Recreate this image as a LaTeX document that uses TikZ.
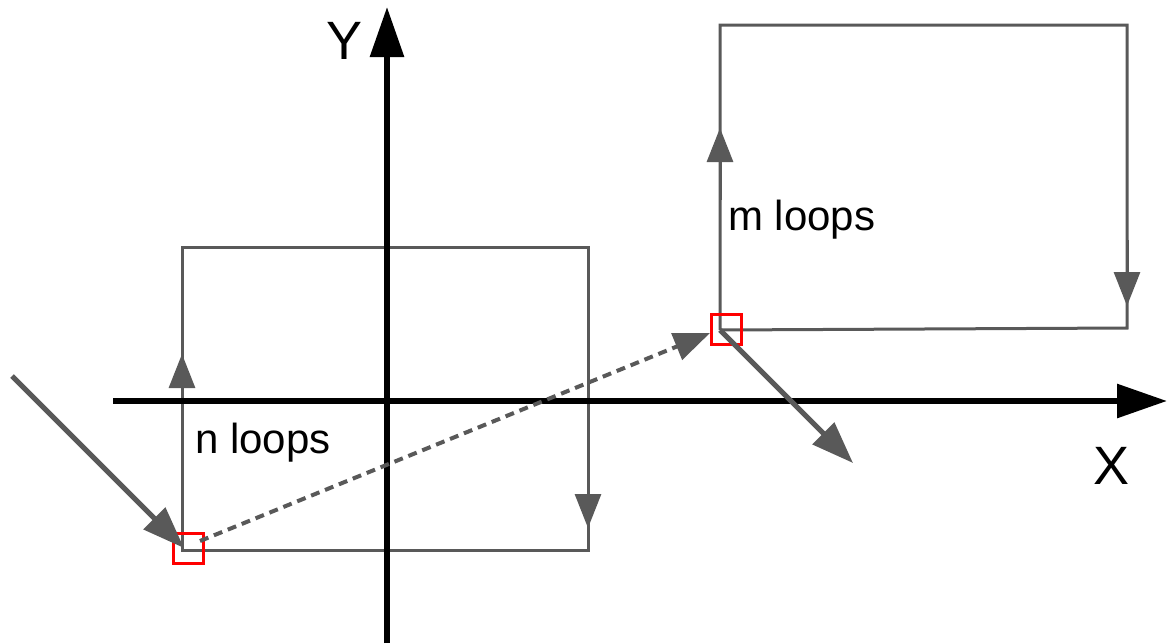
\documentclass[tikz,border=0pt]{standalone}
\usepackage{fontspec}
\setmainfont{Liberation Sans}
\usetikzlibrary{arrows.meta}
\definecolor{lg}{HTML}{595959}
\begin{document}
\begin{tikzpicture}[x=1pt,y=-1pt,
  axis/.style={line width=6pt,black,-{Triangle[length=50pt,width=33pt]}},
  side/.style={line width=3pt,lg},
  sidearrow/.style={line width=3pt,lg,-{Triangle[length=34pt,width=26pt]}},
  bigarrow/.style={line width=5pt,lg,-{Triangle[length=42pt,width=30pt]}},
  dasharrow/.style={line width=4pt,lg,dash pattern=on 9pt off 6pt,-{Triangle[length=36pt,width=28pt]}},
  marker/.style={draw=red,line width=3pt,minimum size=30pt,inner sep=0pt},
  lbl/.style={font=\fontsize{42}{48}\selectfont,inner sep=0pt,anchor=base west},
  axl/.style={font=\fontsize{54}{60}\selectfont,inner sep=0pt,anchor=base}]
\useasboundingbox (0,0) rectangle (1173,643);
% rectangles
\coordinate (LA) at (182,550);
\coordinate (LB) at (182,247);
\coordinate (LC) at (588,247);
\coordinate (LD) at (588,550);
\coordinate (RA) at (720,330);
\coordinate (RB) at (720,25);
\coordinate (RC) at (1127,25);
\coordinate (RD) at (1127,328);
\draw[side] (LA) -- (LB) -- (LC) -- (LD) -- cycle;
\draw[side] (RA) -- (RB) -- (RC) -- (RD) -- (RA);
% side arrows
\coordinate (la1) at (182,420); \coordinate (la2) at (182,354);
\draw[sidearrow] (la1) -- (la2);
\coordinate (ld1) at (588,460); \coordinate (ld2) at (588,528);
\draw[sidearrow] (ld1) -- (ld2);
\coordinate (ra1) at (720,200); \coordinate (ra2) at (720,128);
\draw[sidearrow] (ra1) -- (ra2);
\coordinate (rd1) at (1127,240); \coordinate (rd2) at (1127,306);
\draw[sidearrow] (rd1) -- (rd2);
% axes
\coordinate (xs) at (113,401); \coordinate (xe) at (1167,401);
\coordinate (ys) at (387,643); \coordinate (ye) at (387,7);
\draw[axis] (xs) -- (xe);
\draw[axis] (ys) -- (ye);
\node[axl] (xl) at (1111,484) {X};
\node[axl] (yl) at (345,59) {Y};
% labels
\node[lbl] (nl) at (195,453) {n loops};
\node[lbl] (ml) at (728,230) {m loops};
% markers
\node[marker] (m1) at (188,548) {};
\node[marker] (m2) at (726,329) {};
% arrows
\coordinate (in) at (12,376);
\coordinate (intip) at (184,548);
\draw[bigarrow] (in) -- (intip);
\coordinate (ds) at (200,541);
\coordinate (de) at (710,333);
\draw[dasharrow] (ds) -- (de);
\coordinate (outtip) at (853,463);
\draw[bigarrow] (RA) -- (outtip);
\end{tikzpicture}
\end{document}
